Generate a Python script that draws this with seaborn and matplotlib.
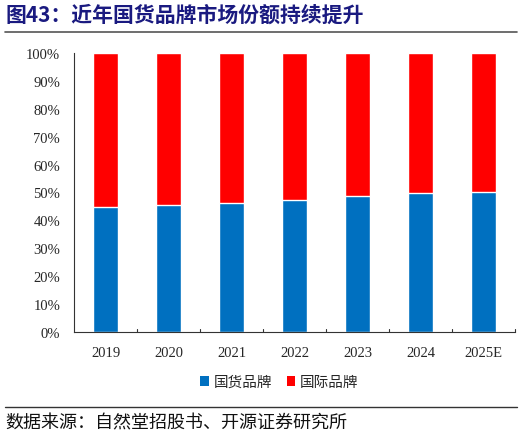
import seaborn as sns, matplotlib.pyplot as plt
import pandas as pd
from matplotlib.lines import Line2D
from matplotlib.patches import Patch

years = ['2019', '2020', '2021', '2022', '2023', '2024', '2025E']
domestic = [44.7, 45.6, 46.2, 47.3, 48.7, 49.7, 50.2]
foreign = [100 - v for v in domestic]
series_names = ['国货品牌', '国际品牌']
colors = ['#0070C0', '#FF0000']
yticks = list(range(0, 101, 10))

sns.set_style('white')
plt.rcParams['font.family'] = ['Liberation Serif', 'Noto Sans CJK SC']

df = pd.DataFrame({'year': years, 'domestic': domestic, 'total': [d + f for d, f in zip(domestic, foreign)]})

fig = plt.figure(figsize=(5.22, 4.39), dpi=100)
ax = fig.add_axes([0.1418, 0.2415, 0.8448, 0.6355])

# total first (red on top), then domestic share over it
sns.barplot(data=df, x='year', y='total', color=colors[1], width=0.4, saturation=1, ax=ax)
sns.barplot(data=df, x='year', y='domestic', color=colors[0], width=0.4, saturation=1, ax=ax)

ax.set_xlim(-0.5, len(years) - 0.5)
ax.set_ylim(0, 100)
ax.set_yticks(yticks)
ax.set_yticklabels([f'{t}%' for t in yticks], fontsize=10.5, family='Liberation Serif')
ax.set_xticks(range(len(years)))
ax.set_xticklabels(years, fontsize=10.5, family='Liberation Serif')
ax.set_xlabel('')
ax.set_ylabel('')
for s in ['top', 'right']:
    ax.spines[s].set_visible(False)
for s in ['left', 'bottom']:
    ax.spines[s].set_color('#333333')
    ax.spines[s].set_linewidth(0.8)
ax.tick_params(axis='y', direction='in', length=4, width=0.8, color='#333333', pad=10)
ax.tick_params(axis='x', length=0, pad=10)
# category separators on the x axis
for b in range(1, len(years) + 1):
    ax.plot([b - 0.5, b - 0.5], [0, 1.2], color='#333333', lw=0.8, clip_on=False)

handles = [Patch(facecolor=c, edgecolor='none') for c in colors]
fig.legend(handles, series_names, loc='center', bbox_to_anchor=(0.535, 0.127), ncol=2,
           frameon=False, handlelength=0.6, handleheight=0.6, handletextpad=0.3, columnspacing=1.0,
           prop={'family': 'Noto Sans CJK SC', 'size': 10.5})

fig.text(0.01, 0.966, '图43：近年国货品牌市场份额持续提升', fontsize=15, fontweight='bold',
         color='#1A1A80', family='Noto Sans CJK SC', va='center')
fig.add_artist(Line2D([0.01, 0.99], [0.925, 0.925], color='#555555', lw=1.2))
fig.add_artist(Line2D([0.01, 0.99], [0.071, 0.071], color='#333333', lw=1.0))
fig.text(0.01, 0.035, '数据来源：自然堂招股书、开源证券研究所', fontsize=13,
         color='#111111', family='Noto Sans CJK SC', va='center')

fig.savefig('out.png', dpi=100)
